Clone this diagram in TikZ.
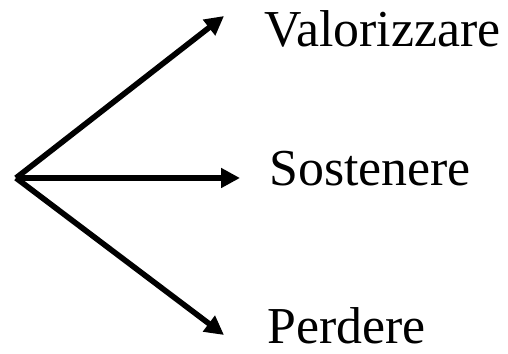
\documentclass[tikz,border=0pt]{standalone}
\usepackage{fontspec}
\setmainfont{Liberation Serif}
\usetikzlibrary{arrows.meta}

\tikzset{
    branch/.style={-{Triangle[length=0.38cm,width=0.38cm]}, line width=3.2pt},
    choice/.style={anchor=base west, inner sep=0pt, font=\fontsize{29.5}{35}\selectfont}
}

\begin{document}
\begin{tikzpicture}[x=0.02cm, y=-0.02cm]
            \useasboundingbox (0,0) rectangle (508,354);

            % starting point and arrow ends
            \coordinate (root) at (16,178);
            \coordinate (up) at (224,16);
            \coordinate (mid) at (240,178);
            \coordinate (down) at (224,335);

            % choices
            \node [choice] (valorizzare) at (264,47) {Valorizzare};
            \node [choice] (sostenere) at (269,186) {Sostenere};
            \node [choice] (perdere) at (267,344) {Perdere};

            % arrows
            \draw [branch] (root) -- (up);
            \draw [branch] (root) -- (mid);
            \draw [branch] (root) -- (down);
        \end{tikzpicture}
\end{document}
